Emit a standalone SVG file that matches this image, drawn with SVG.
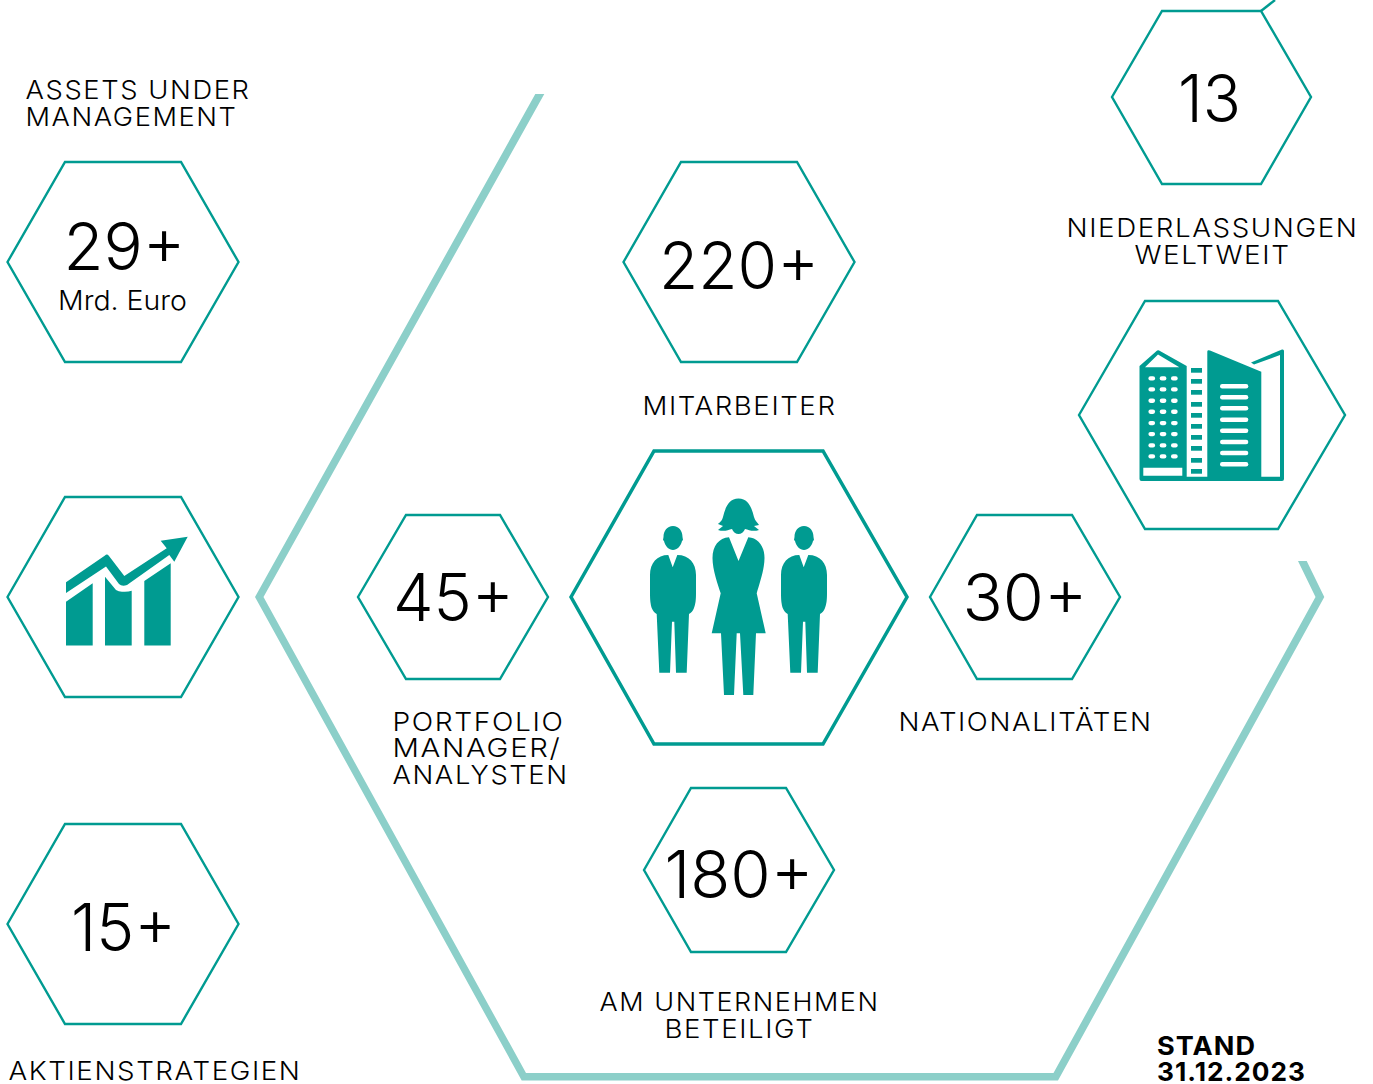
<svg xmlns="http://www.w3.org/2000/svg" width="1373" height="1084" viewBox="0 0 1373 1084">
<style>
text{font-family:"Inter","Liberation Sans",sans-serif;fill:#000}
.l{font-size:26px;font-weight:300;letter-spacing:1.5px}
.n{font-size:66px;font-weight:300}
.s{font-size:27px;font-weight:300}
.b{font-size:26px;font-weight:700;letter-spacing:1px}
.h{fill:#fff;stroke:#009b91;stroke-width:2.400;stroke-linejoin:miter}
.i{fill:#009b91}
.w{fill:#fff}
</style>
<rect width="1373" height="1084" fill="#fff"/>
<g id="connectors">
<path d="M535.300 94L255 597L521.700 1080.500H1058L1324.300 597L1306.700 561H1298L1315.500 597L1053.500 1073H526L263.500 597L544.300 94Z" fill="#8ccfc9"/>
<path d="M1261 11L1275 0" fill="none" stroke="#009b91" stroke-width="2.400"/>
</g>
<g id="node-assets">
<text class="l" x="25.500" y="99" textLength="225" lengthAdjust="spacingAndGlyphs">ASSETS UNDER</text>
<text class="l" x="25.500" y="126" textLength="212" lengthAdjust="spacingAndGlyphs">MANAGEMENT</text>
<polygon class="h" points="7.500,262 65,162 181,162 238.500,262 181,362 65,362"/>
<text class="n" x="63.500" y="269.500" textLength="122" lengthAdjust="spacingAndGlyphs">29+</text>
<text class="s" x="58" y="310" textLength="129" lengthAdjust="spacingAndGlyphs">Mrd. Euro</text>
</g>
<g id="node-chart">
<polygon class="h" points="7.500,597 65,497 181,497 238.500,597 181,697 65,697"/>
<path class="i" d="M66 582.300L105 555.500Q107 553.500 109 556L124.300 576L166.700 548.300L160.700 540.700L187.700 536.700L174.300 561.700L169.300 555L127 585Q122 587 119 584L106 566.500L66 593Z"/>
<path class="i" d="M66 601.700L92.700 583.300V645.500H66ZM105 576.700L116 590Q119 592 123 591.700Q128 592 131.700 590.700V645.500H105ZM144.300 581L170.700 563.300V645.500H144.300Z"/>
</g>
<g id="node-strategies">
<polygon class="h" points="7.500,924 65,824 181,824 238.500,924 181,1024 65,1024"/>
<text class="n" x="71" y="950.500" textLength="105" lengthAdjust="spacingAndGlyphs">15+</text>
<text class="l" x="8.500" y="1080" textLength="293" lengthAdjust="spacingAndGlyphs">AKTIENSTRATEGIEN</text>
</g>
<g id="node-staff">
<polygon class="h" points="623.500,262 681,162 797,162 854.500,262 797,362 681,362"/>
<text class="n" x="659" y="289" textLength="160" lengthAdjust="spacingAndGlyphs">220+</text>
<text class="l" x="642.500" y="415" textLength="194" lengthAdjust="spacingAndGlyphs">MITARBEITER</text>
</g>
<g id="node-pm">
<polygon class="h" points="358,597 406,515 500,515 548,597 500,679 406,679"/>
<text class="n" x="393" y="620.500" textLength="121" lengthAdjust="spacingAndGlyphs">45+</text>
<text class="l" x="392.500" y="731" textLength="172" lengthAdjust="spacingAndGlyphs">PORTFOLIO</text>
<text class="l" x="392.500" y="757" textLength="169" lengthAdjust="spacingAndGlyphs">MANAGER/</text>
<text class="l" x="392.500" y="784" textLength="176" lengthAdjust="spacingAndGlyphs">ANALYSTEN</text>
</g>
<g id="node-people">
<polygon class="h" style="stroke-width:3.500" points="571,597 654,451 823,451 907,597 823,744 654,744"/>
<g class="i">
<path id="man" d="M673 526C679 526 682.500 531 682.500 537L683 540L682 541C681 546 677 550 673 550C669 550 665 546 664 541L663 540L663.500 537C663.500 531 667 526 673 526ZM668.300 555L672.700 567.300L677.300 555C689 555 696 563 696 575V593C696 600 695.500 604 694 608C693 611 691 613 689 614L686.700 672.700H676L674.300 621.700H672L670 672.700H659.300L656.700 614C654.500 613 653 611 651.700 608C650.500 604 650 600 650 593V575C650 563 657 555 668.300 555Z"/>
<use href="#man" x="131"/>
<path d="M738.500 498.500C749 498.500 752 509 754 517C755 521 758 523 759 525L754 526L759 530C753 532 749 530 745 529C744 532 741 534 738.500 534C736 534 733 532 732 529C728 530 724 532 718 530L723 526L718 524C720 522 722 521 723 517C725 509 728 498.500 738.500 498.500ZM729 537.300L738.500 561L748.300 537.300C758 538 764.500 546 764.500 558C764.500 570 759 585 756.700 593.300L765.700 633.300H756L753.300 695H743.300L740 633.300H736.700L734 695H724L721 633.300H711.700L720.700 593.300C718 585 712.500 570 712.500 558C712.500 546 719 538 729 537.300Z"/>
</g>
</g>
<g id="node-nat">
<polygon class="h" points="930,597 977,515 1072,515 1120,597 1072,679 977,679"/>
<text class="n" x="962.500" y="620.500" textLength="125" lengthAdjust="spacingAndGlyphs">30+</text>
<text class="l" x="898.500" y="731" textLength="254" lengthAdjust="spacingAndGlyphs">NATIONALITÄTEN</text>
</g>
<g id="node-shareholders">
<polygon class="h" points="644,870 691,788 786,788 834,870 786,952 691,952"/>
<text class="n" x="664.500" y="897.500" textLength="149" lengthAdjust="spacingAndGlyphs">180+</text>
<text class="l" x="599.500" y="1011" textLength="280" lengthAdjust="spacingAndGlyphs">AM UNTERNEHMEN</text>
<text class="l" x="664.500" y="1038" textLength="150" lengthAdjust="spacingAndGlyphs">BETEILIGT</text>
</g>
<g id="node-offices">
<polygon class="h" points="1112,97 1162,11 1261,11 1311,97 1261,184 1162,184"/>
<text class="n" x="1178" y="121.500" textLength="63" lengthAdjust="spacingAndGlyphs">13</text>
<text class="l" x="1066.500" y="237" textLength="292" lengthAdjust="spacingAndGlyphs">NIEDERLASSUNGEN</text>
<text class="l" x="1134.500" y="264" textLength="156" lengthAdjust="spacingAndGlyphs">WELTWEIT</text>
</g>
<g id="node-building">
<polygon class="h" points="1079,415 1145,301 1278,301 1345,415 1278,529 1145,529"/>
<path class="i" d="M1139.500 366L1156 351.500Q1158 349.500 1160 351L1186.700 366V476.700H1207.300V351.500Q1207.500 349.500 1210 350.500L1261.300 371.700V476.700H1280V355L1254 364.500L1251 362.500L1282 349.500Q1284 349 1284 351V479Q1284 481 1282 481H1141.500Q1139.500 481 1139.500 479Z"/>
<path class="w" d="M1145 367.300L1158 354.500L1179.300 367.300ZM1143.300 467.700H1182.300V475.700H1143.300Z"/>
<g class="w">
<g id="winrow"><rect x="1148.400" y="376.200" width="6.700" height="4.300" rx="2.100"/><rect x="1159.700" y="376.200" width="6.700" height="4.300" rx="2.100"/><rect x="1171" y="376.200" width="6.700" height="4.300" rx="2.100"/></g>
<use href="#winrow" y="11"/><use href="#winrow" y="22.400"/><use href="#winrow" y="33.400"/><use href="#winrow" y="44.700"/><use href="#winrow" y="55.700"/><use href="#winrow" y="67"/><use href="#winrow" y="78"/>
<rect x="1220" y="384" width="28.300" height="4.500" rx="2.200"/><rect x="1220" y="395" width="28.300" height="4.500" rx="2.200"/><rect x="1220" y="406" width="28.300" height="4.500" rx="2.200"/><rect x="1220" y="417.400" width="28.300" height="4.500" rx="2.200"/><rect x="1220" y="428.400" width="28.300" height="4.500" rx="2.200"/><rect x="1220" y="439.700" width="28.300" height="4.500" rx="2.200"/><rect x="1220" y="450.700" width="28.300" height="4.500" rx="2.200"/><rect x="1220" y="462" width="28.300" height="4.500" rx="2.200"/>
</g>
<g class="i">
<rect x="1191" y="368" width="11" height="4.700"/><rect x="1191" y="379" width="11" height="4.700"/><rect x="1191" y="390" width="11" height="4.700"/><rect x="1191" y="402" width="11" height="4.700"/><rect x="1191" y="413" width="11" height="4.700"/><rect x="1191" y="424" width="11" height="4.700"/><rect x="1191" y="435" width="11" height="4.700"/><rect x="1191" y="446" width="11" height="4.700"/><rect x="1191" y="458" width="11" height="4.700"/><rect x="1191" y="469" width="11" height="4.700"/>
</g>
</g>
<g id="note">
<text class="b" x="1157" y="1055" textLength="99" lengthAdjust="spacingAndGlyphs">STAND</text>
<text class="b" x="1157" y="1081" textLength="149" lengthAdjust="spacingAndGlyphs">31.12.2023</text>
</g>
</svg>
